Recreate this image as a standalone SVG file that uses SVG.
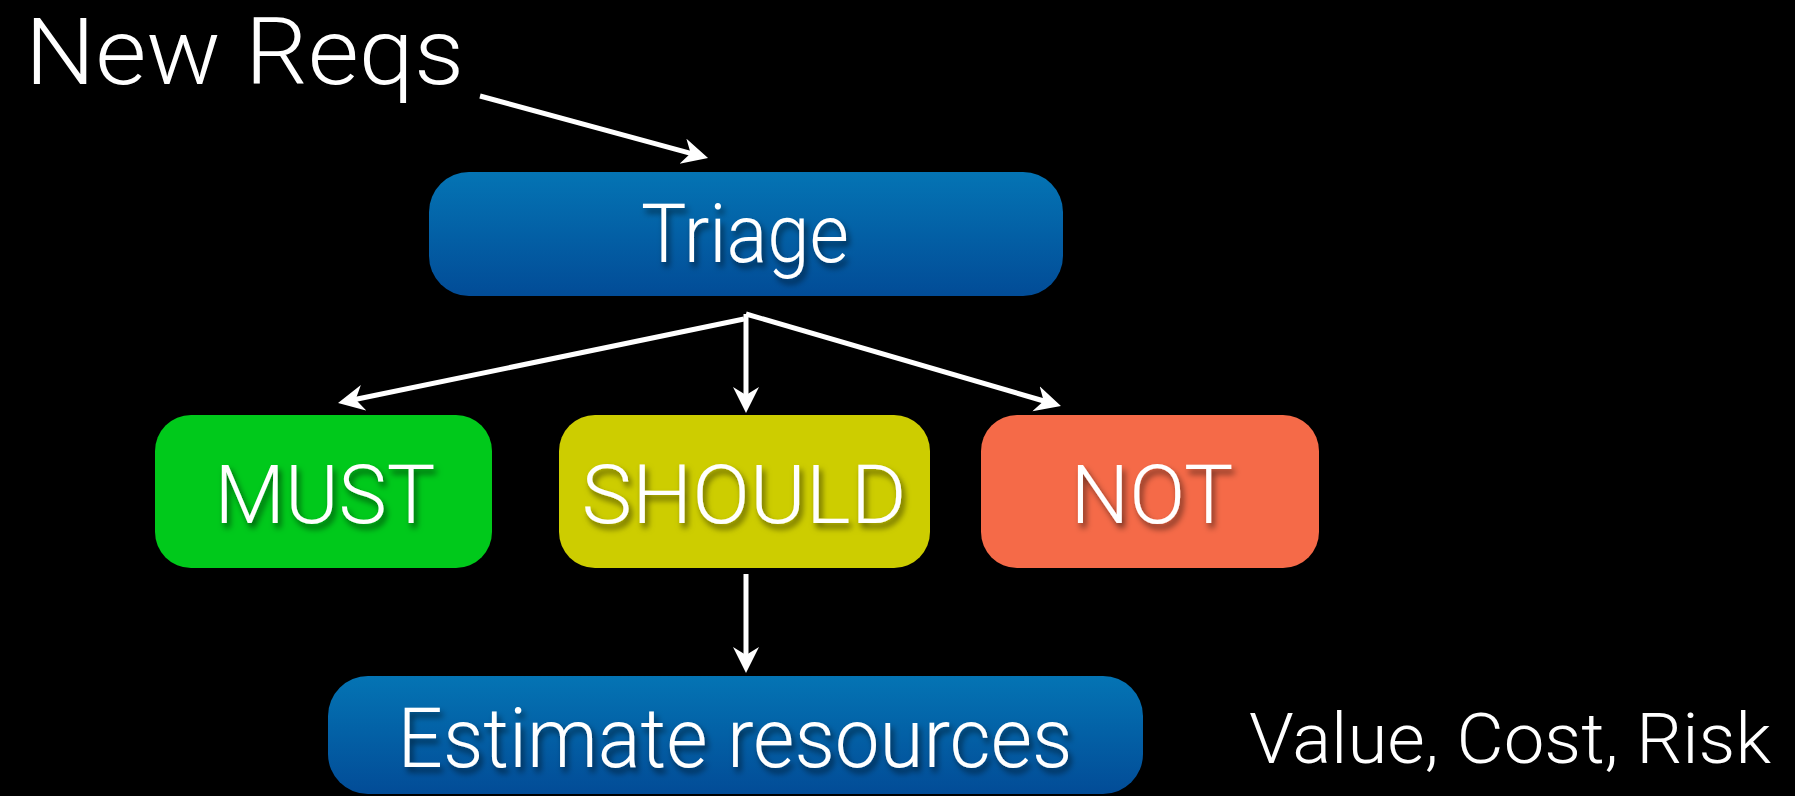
<svg xmlns="http://www.w3.org/2000/svg" width="1795" height="796" viewBox="0 0 1795 796">
  <defs>
    <linearGradient id="blueFill" x1="0" y1="0" x2="0" y2="1">
      <stop offset="0" stop-color="#0474b4"/>
      <stop offset="1" stop-color="#024c97"/>
    </linearGradient>
    <filter id="labelShadow" x="-20%" y="-30%" width="140%" height="160%">
      <feDropShadow dx="3" dy="5" stdDeviation="3" flood-color="#000" flood-opacity="0.55"/>
    </filter>
    <marker id="arrowHead" markerUnits="userSpaceOnUse" markerWidth="28" markerHeight="28" refX="10" refY="13" orient="auto">
      <path d="M0,0 L26,13 L0,26 L8,13 Z" fill="#fff"/>
    </marker>
  </defs>
  <style>
    .plain { font-family: Roboto, "Liberation Sans", sans-serif; font-weight: 300; fill: #fff; }
    .label { font-family: Roboto, "Liberation Sans", sans-serif; font-weight: 300; fill: #fff; text-anchor: middle; filter: url(#labelShadow); }
    .edge { stroke: #fff; stroke-width: 5; fill: none; marker-end: url(#arrowHead); }
  </style>

  <rect x="0" y="0" width="1795" height="796" fill="#000"/>

  <g id="new-reqs">
    <text class="plain" x="25" y="84" font-size="92" textLength="439" lengthAdjust="spacingAndGlyphs">New Reqs</text>
  </g>

  <g id="triage">
    <rect x="429" y="172" width="634" height="124" rx="40" fill="url(#blueFill)"/>
    <text class="label" x="745" y="262" font-size="82" textLength="208" lengthAdjust="spacingAndGlyphs">Triage</text>
  </g>

  <g id="must">
    <rect x="155" y="415" width="337" height="153" rx="36" fill="#00c91b"/>
    <text class="label" x="325" y="523" font-size="82" textLength="221" lengthAdjust="spacingAndGlyphs">MUST</text>
  </g>

  <g id="should">
    <rect x="559" y="415" width="371" height="153" rx="36" fill="#cdcd00"/>
    <text class="label" x="744" y="523" font-size="82" textLength="325" lengthAdjust="spacingAndGlyphs">SHOULD</text>
  </g>

  <g id="not">
    <rect x="981" y="415" width="338" height="153" rx="36" fill="#f56a48"/>
    <text class="label" x="1152" y="523" font-size="82" textLength="163" lengthAdjust="spacingAndGlyphs">NOT</text>
  </g>

  <g id="estimate">
    <rect x="328" y="676" width="815" height="118" rx="40" fill="url(#blueFill)"/>
    <text class="label" x="735" y="767" font-size="84" textLength="675" lengthAdjust="spacingAndGlyphs">Estimate resources</text>
  </g>

  <g id="value-cost-risk">
    <text class="plain" x="1249" y="763" font-size="70" textLength="522" lengthAdjust="spacingAndGlyphs">Value, Cost, Risk</text>
  </g>

  <g id="connectors">
    <line class="edge" x1="480" y1="96" x2="692.6" y2="153.8"/>
    <line class="edge" x1="744" y1="319" x2="353.7" y2="399.8"/>
    <line class="edge" x1="746" y1="314" x2="746" y2="397"/>
    <line class="edge" x1="746" y1="314" x2="1045.6" y2="401.5"/>
    <line class="edge" x1="746" y1="574" x2="746" y2="657"/>
  </g>
</svg>
